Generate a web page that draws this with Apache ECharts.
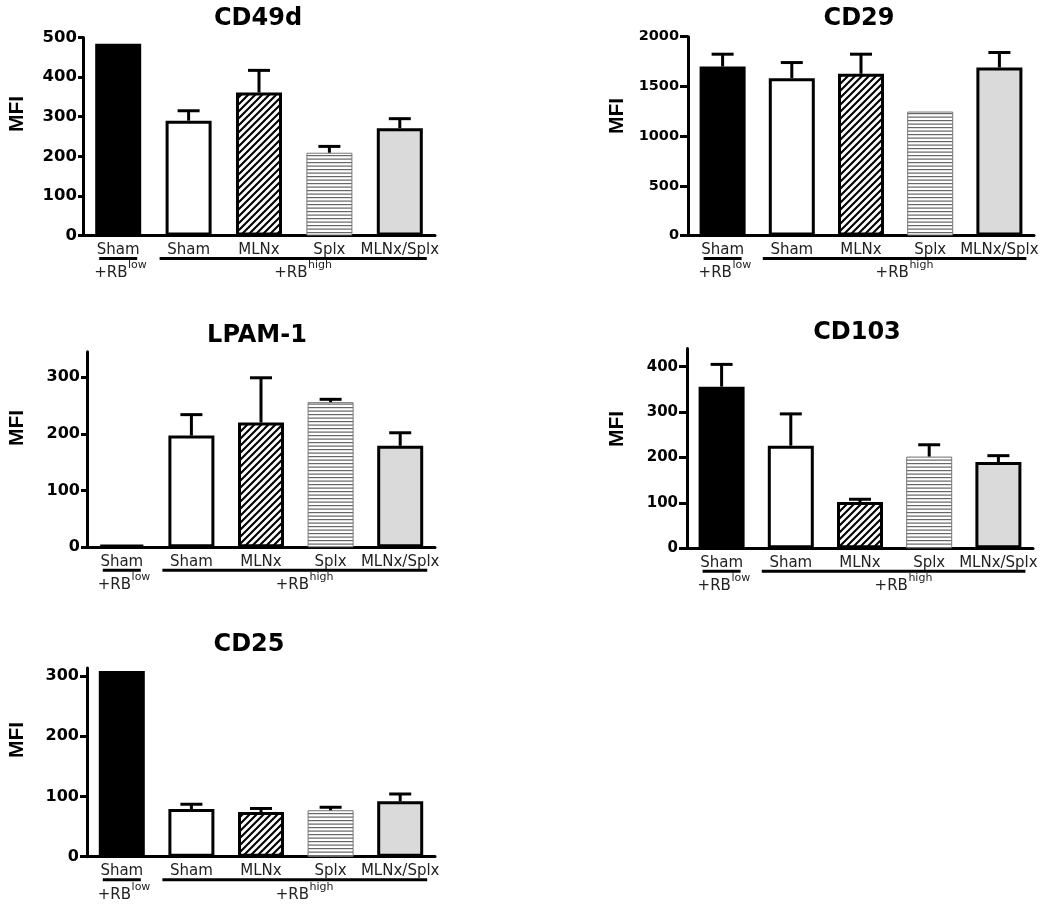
<!DOCTYPE html>
<html><head><meta charset="utf-8">
<script src="https://cdn.jsdelivr.net/npm/echarts@6/dist/echarts.min.js"></script>
<style>html,body{margin:0;padding:0;background:#fff}#c{width:1050px;height:907px}</style>
</head><body><div id="c"></div>
<script>
// ---------- data ----------
const categories = ['Sham', 'Sham', 'MLNx', 'Splx', 'MLNx/Splx'];
const panelTitles = ['CD49d', 'CD29', 'LPAM-1', 'CD103', 'CD25'];
const groupLow = '+RB', groupLowSup = 'low';
const groupHigh = '+RB', groupHighSup = 'high';
const yName = 'MFI';

const cd49dMean = [484, 290, 361, 209, 271];
const cd49dErr  = [0, 25, 56, 16, 24];
const cd29Mean  = [1700, 1583, 1627, 1247, 1690];
const cd29Err   = [124, 157, 197, 0, 151];
const lpamMean  = [5, 197, 220, 256, 179];
const lpamErr   = [0, 37, 79, 5, 23];
const cd103Mean = [356, 226, 102, 202, 190];
const cd103Err  = [49, 70, 6, 26, 14];
const cd25Mean  = [308, 79, 74, 77, 92];
const cd25Err   = [0, 8, 6, 5, 12];

const cd49dTicks = [0, 100, 200, 300, 400, 500];
const cd29Ticks  = [0, 500, 1000, 1500, 2000];
const lpamTicks  = [0, 100, 200, 300];
const cd103Ticks = [0, 100, 200, 300, 400];
const cd25Ticks  = [0, 100, 200, 300];
const axisMax = [500, 2000, 345, 440, 313];

const means = [cd49dMean, cd29Mean, lpamMean, cd103Mean, cd25Mean];
const errs = [cd49dErr, cd29Err, lpamErr, cd103Err, cd25Err];
const ticks = [cd49dTicks, cd29Ticks, lpamTicks, cd103Ticks, cd25Ticks];

// ---------- layout ----------
const grids = [
  {left: 83, top: 37.5, width: 352, height: 198},
  {left: 688, top: 36.7, width: 346, height: 198.8},
  {left: 87, top: 351.7, width: 348, height: 195.6},
  {left: 687, top: 348.5, width: 346, height: 199.8},
  {left: 87, top: 668.0, width: 348, height: 188.7}
];
const titlePos = [[258, 19], [859, 19], [257, 336], [857, 333], [249, 645]];
const mfiPos = [[17, 114], [617, 116], [17, 428], [617, 429], [17, 740]];
const tickLen = [5, 8, 6, 8, 7];
const tickFont = [16.5, 14.5, 16, 15, 16];

const FF = 'DejaVu Sans';

function hatchPattern() {
  const c = document.createElement('canvas');
  c.width = 7; c.height = 7;
  const g = c.getContext('2d');
  g.fillStyle = '#fff'; g.fillRect(0, 0, 7, 7);
  g.strokeStyle = '#000'; g.lineWidth = 2.1;
  g.beginPath();
  g.moveTo(0, 7); g.lineTo(7, 0);
  g.moveTo(-1, 1); g.lineTo(1, -1);
  g.moveTo(6, 8); g.lineTo(8, 6);
  g.stroke();
  return c;
}
function hlinePattern() {
  const c = document.createElement('canvas');
  c.width = 4; c.height = 7;
  const g = c.getContext('2d');
  g.fillStyle = '#fff'; g.fillRect(0, 0, 4, 7);
  g.fillStyle = '#666';
  g.fillRect(0, 1, 4, 1.2);
  g.fillRect(0, 4.5, 4, 1.2);
  return c;
}
const barStyles = [
  {color: '#000', borderColor: '#000', borderWidth: 3},
  {color: '#fff', borderColor: '#000', borderWidth: 3},
  {color: {image: hatchPattern(), repeat: 'repeat'}, borderColor: '#000', borderWidth: 3},
  {color: {image: hlinePattern(), repeat: 'repeat'}, borderColor: '#777', borderWidth: 1},
  {color: '#dadada', borderColor: '#000', borderWidth: 3}
];

const chart = echarts.init(document.getElementById('c'), null, {renderer: 'canvas'});

const option = {
  animation: false,
  backgroundColor: '#fff',
  title: panelTitles.map((t, i) => ({
    text: t, left: titlePos[i][0], top: titlePos[i][1],
    textAlign: 'center', textVerticalAlign: 'middle', padding: 0,
    textStyle: {fontFamily: FF, fontWeight: 'bold', fontSize: 24, color: '#000'}
  })),
  grid: grids.map(g => Object.assign({containLabel: false, outerBoundsMode: 'none'}, g)),
  xAxis: grids.map((g, i) => ({
    gridIndex: i, type: 'category', data: categories,
    axisLine: {show: true, lineStyle: {color: '#000', width: 3}},
    axisTick: {show: false},
    axisLabel: {interval: 0, margin: 7, fontFamily: FF, fontSize: 15, color: '#222'},
    splitLine: {show: false}
  })),
  yAxis: grids.map((g, i) => ({
    gridIndex: i, type: 'value', min: 0, max: axisMax[i],
    axisLine: {show: true, lineStyle: {color: '#000', width: 3}},
    axisTick: {show: true, length: tickLen[i], lineStyle: {color: '#000', width: 3}, customValues: ticks[i]},
    axisLabel: {customValues: ticks[i], margin: tickLen[i] + 1, fontFamily: FF, fontWeight: 'bold',
      fontSize: tickFont[i], color: '#000', formatter: v => String(v)},
    splitLine: {show: false}
  })),
  series: []
};

for (let i = 0; i < 5; i++) {
  option.series.push({
    type: 'bar', xAxisIndex: i, yAxisIndex: i, barWidth: 46,
    silent: true, emphasis: {disabled: true},
    data: means[i].map((v, k) => ({value: v, itemStyle: barStyles[k]}))
  });
  option.series.push({
    type: 'custom', xAxisIndex: i, yAxisIndex: i, silent: true, z: 10,
    data: means[i].map((m, k) => [k, m, errs[i][k]]),
    renderItem: function (params, api) {
      const e = api.value(2);
      if (!e) return null;
      const b = api.coord([api.value(0), api.value(1)]);
      const t = api.coord([api.value(0), api.value(1) + e]);
      return {
        type: 'group', children: [
          {type: 'line', shape: {x1: b[0], y1: b[1], x2: t[0], y2: t[1]}, style: {stroke: '#000', lineWidth: 3}},
          {type: 'line', shape: {x1: t[0] - 11, y1: t[1], x2: t[0] + 11, y2: t[1]}, style: {stroke: '#000', lineWidth: 3}}
        ]
      };
    }
  });
}
chart.setOption(option);

// ---------- group annotations, placed through the axes ----------
const mctx = document.createElement('canvas').getContext('2d');
mctx.font = '15px "DejaVu Sans"';
function groupLabel(x, y0, main, sup) {
  const w = mctx.measureText(main).width;
  return [
    {type: 'text', x: x, y: y0 + 38, style: {text: main, font: '15px "DejaVu Sans"', fill: '#222', textAlign: 'left', textVerticalAlign: 'middle'}},
    {type: 'text', x: x + w + 0.5, y: y0 + 30, style: {text: sup, font: '11px "DejaVu Sans"', fill: '#222', textAlign: 'left', textVerticalAlign: 'middle'}}
  ];
}
const gfx = [];
for (let i = 0; i < 5; i++) {
  const p0 = chart.convertToPixel({gridIndex: i}, [0, 0]);
  const p1 = chart.convertToPixel({gridIndex: i}, [1, 0]);
  const p4 = chart.convertToPixel({gridIndex: i}, [4, 0]);
  const y0 = p0[1];
  gfx.push({type: 'line', shape: {x1: p0[0] - 19, y1: y0 + 23, x2: p0[0] + 19, y2: y0 + 23}, style: {stroke: '#000', lineWidth: 3}});
  gfx.push({type: 'line', shape: {x1: p1[0] - 29, y1: y0 + 23, x2: p4[0] + 27, y2: y0 + 23}, style: {stroke: '#000', lineWidth: 3}});
  gfx.push(...groupLabel(p0[0] - 24, y0, groupLow, groupLowSup));
  gfx.push(...groupLabel((p1[0] + p4[0]) / 2 - 20, y0, groupHigh, groupHighSup));
  gfx.push({type: 'text', x: mfiPos[i][0], y: mfiPos[i][1], rotation: Math.PI / 2,
    style: {text: yName, font: 'bold 21px "Liberation Sans", Arial, sans-serif', fill: '#000', textAlign: 'center', textVerticalAlign: 'middle'}});
}
chart.setOption({graphic: gfx});
</script>
</body></html>
